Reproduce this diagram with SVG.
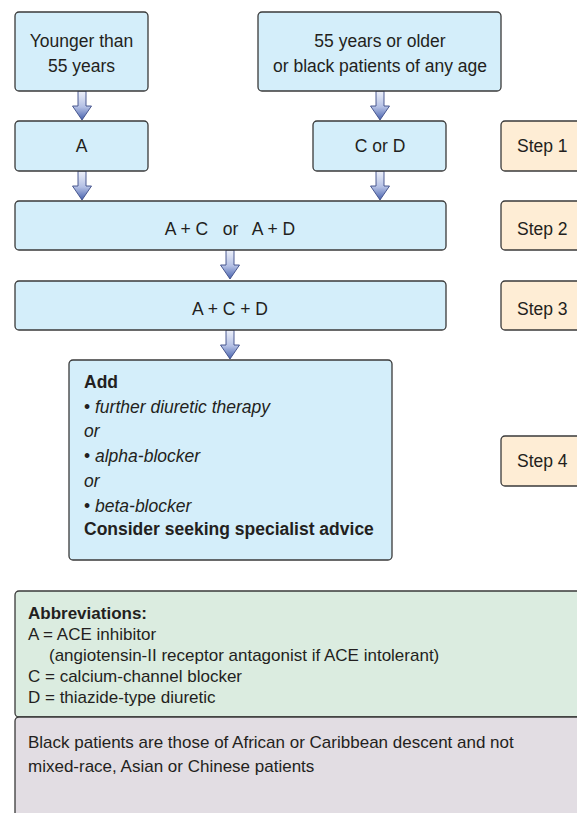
<svg xmlns="http://www.w3.org/2000/svg" width="577" height="813" viewBox="0 0 577 813">
<defs>
<linearGradient id="ag" x1="0" y1="0" x2="0" y2="1">
<stop offset="0" stop-color="#eef1fa"/>
<stop offset="0.55" stop-color="#b4c0e4"/>
<stop offset="1" stop-color="#4661ae"/>
</linearGradient>
<style>
.box{fill:#d4eefa;stroke:#3a3a3a;stroke-width:1.3}
.step{fill:#feedd5;stroke:#3a3a3a;stroke-width:1.3}
.t{font-family:"Liberation Sans",Arial,sans-serif;font-size:17.5px;fill:#231f20}
.c{text-anchor:middle}
.b{font-weight:bold}
.i{font-style:italic}
.s{font-family:"Liberation Sans",Arial,sans-serif;font-size:17px;fill:#231f20}
.arr{fill:url(#ag);stroke:#3b4b86;stroke-width:0.9}
</style>
</defs>
<rect width="577" height="813" fill="#ffffff"/>
<g id="connectors">
<path class="arr" d="M78,91 V106 H72.5 L82,120 L91.5,106 H86 V91 Z"/>
<path class="arr" d="M78,171 V186 H72.5 L82,200 L91.5,186 H86 V171 Z"/>
<path class="arr" d="M376,91 V106 H370.5 L380,120 L389.5,106 H384 V91 Z"/>
<path class="arr" d="M376,171 V186 H370.5 L380,200 L389.5,186 H384 V171 Z"/>
<path class="arr" d="M226,250 V265 H220.5 L230,279 L239.5,265 H234 V250 Z"/>
<path class="arr" d="M226,330 V345 H220.5 L230,359 L239.5,345 H234 V330 Z"/>
</g>
<g id="young">
<rect class="box" x="15" y="12" width="133" height="79" rx="4"/>
<text class="t c" x="81.5" y="47">Younger than</text>
<text class="t c" x="81.5" y="72">55 years</text>
</g>
<g id="older">
<rect class="box" x="258" y="12" width="243" height="79" rx="4"/>
<text class="t c" x="380" y="47">55 years or older</text>
<text class="t c" x="380" y="72">or black patients of any age</text>
</g>
<g id="a">
<rect class="box" x="15" y="121" width="133" height="50" rx="4"/>
<text class="t c" x="81.5" y="152">A</text>
</g>
<g id="cord">
<rect class="box" x="313" y="121" width="133" height="50" rx="4"/>
<text class="t c" x="380" y="152">C or D</text>
</g>
<g id="step1">
<rect class="step" x="501" y="121" width="100" height="50" rx="4"/>
<text class="t" x="517" y="152">Step 1</text>
</g>
<g id="s2">
<rect class="box" x="15" y="201" width="431" height="49" rx="4"/>
<text class="t c" x="230" y="235" xml:space="preserve">A + C   or   A + D</text>
</g>
<g id="step2">
<rect class="step" x="501" y="201" width="100" height="49" rx="4"/>
<text class="t" x="517" y="235">Step 2</text>
</g>
<g id="s3">
<rect class="box" x="15" y="281" width="431" height="49" rx="4"/>
<text class="t c" x="230" y="315">A + C + D</text>
</g>
<g id="step3">
<rect class="step" x="501" y="281" width="100" height="49" rx="4"/>
<text class="t" x="517" y="315">Step 3</text>
</g>
<g id="s4">
<rect class="box" x="69" y="360" width="323" height="200" rx="4"/>
<text class="t b" x="84" y="388">Add</text>
<text class="t" x="84" y="413">• <tspan class="i">further diuretic therapy</tspan></text>
<text class="t i" x="84" y="437">or</text>
<text class="t" x="84" y="462">• <tspan class="i">alpha-blocker</tspan></text>
<text class="t i" x="84" y="487">or</text>
<text class="t" x="84" y="512">• <tspan class="i">beta-blocker</tspan></text>
<text class="t b" x="84" y="535">Consider seeking specialist advice</text>
</g>
<g id="step4">
<rect class="step" x="501" y="436" width="100" height="50" rx="4"/>
<text class="t" x="517" y="467">Step 4</text>
</g>
<g id="abbrev">
<rect x="15" y="591" width="600" height="126" rx="4" fill="#dbece0" stroke="#3a3a3a" stroke-width="1.3"/>
<text class="s b" x="28" y="619">Abbreviations:</text>
<text class="s" x="28" y="640">A = ACE inhibitor</text>
<text class="s" x="49" y="661">(angiotensin-II receptor antagonist if ACE intolerant)</text>
<text class="s" x="28" y="682">C = calcium-channel blocker</text>
<text class="s" x="28" y="703">D = thiazide-type diuretic</text>
</g>
<g id="note">
<rect x="15" y="717" width="600" height="120" rx="4" fill="#e2dde3" stroke="#3a3a3a" stroke-width="1.3"/>
<text class="s" x="28" y="748">Black patients are those of African or Caribbean descent and not</text>
<text class="s" x="28" y="772">mixed-race, Asian or Chinese patients</text>
</g>
</svg>
